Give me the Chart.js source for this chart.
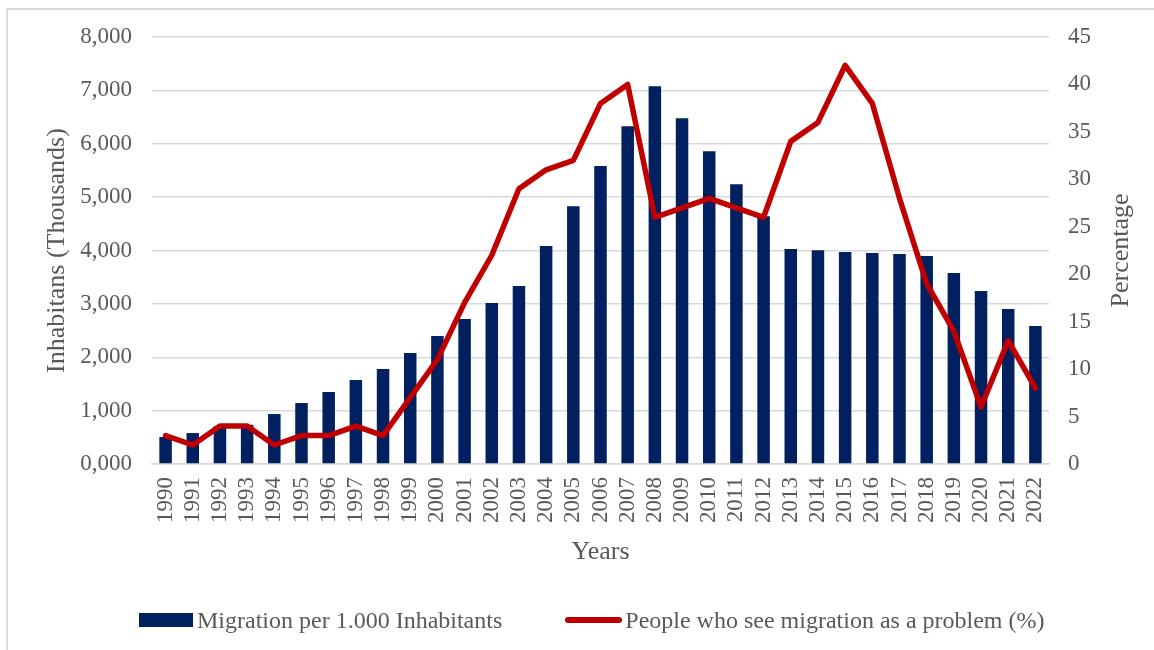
<!DOCTYPE html>
<html>
<head>
<meta charset="utf-8">
<script src="https://cdn.jsdelivr.net/npm/chart.js@4"></script>
<style>
  body { margin: 0; background: #fff; overflow: hidden; }
  #wrap { position: relative; width: 1154px; height: 650px; }
  #frame { position: absolute; left: 6px; top: 8px; width: 1200px; height: 700px; border: 2px solid #d9d9d9; box-sizing: border-box; }
  #legend { position: absolute; left: 139px; top: 606px; height: 28px; display: flex; align-items: center;
    font-family: "Liberation Serif", "Times New Roman", serif; font-size: 24px; color: #595959; white-space: nowrap; }
  #legend .item { display: flex; align-items: center; }
  #legend .swatch { margin-right: 4px; }
</style>
</head>
<body>
<div id="wrap">
  <div id="frame"></div>
  <canvas id="mycanvas"></canvas>
  <div id="legend"></div>
</div>
<script>
var years = ['1990','1991','1992','1993','1994','1995','1996','1997','1998','1999','2000','2001','2002','2003','2004','2005','2006','2007','2008','2009','2010','2011','2012','2013','2014','2015','2016','2017','2018','2019','2020','2021','2022'];
var migration = [506, 580, 710, 735, 936, 1142, 1348, 1573, 1779, 2079, 2397, 2715, 3015, 3333, 4082, 4831, 5581, 6330, 7079, 6479, 5861, 5243, 4644, 4026, 4007, 3970, 3951, 3933, 3895, 3577, 3240, 2903, 2584];
var problem = [3, 2, 4, 4, 2, 3, 3, 4, 3, 7, 11, 17, 22, 29, 31, 32, 38, 40, 26, 27, 28, 27, 26, 34, 36, 42, 38, 28, 19, 14, 6, 13, 8];
var leftTicks = ['0,000','1,000','2,000','3,000','4,000','5,000','6,000','7,000','8,000'];
var rightTicks = ['0','5','10','15','20','25','30','35','40','45'];
var rightTitle = 'Percentage';

var navy = '#002060';
var red = '#C00000';
var grey = '#595959';
var serif = "'Liberation Serif', 'Times New Roman', serif";

var chartdata = {
  labels: years,
  datasets: [
    {
      type: 'bar',
      label: 'Migration per 1.000 Inhabitants',
      data: migration,
      backgroundColor: navy,
      borderWidth: 0,
      yAxisID: 'y',
      order: 2,
      categoryPercentage: 0.46,
      barPercentage: 1
    },
    {
      type: 'line',
      label: 'People who see migration as a problem (%)',
      data: problem,
      borderColor: red,
      backgroundColor: red,
      borderWidth: 5.5,
      borderJoinStyle: 'round',
      borderCapStyle: 'round',
      pointRadius: 0,
      tension: 0,
      yAxisID: 'y1',
      order: 1
    }
  ]
};

// right axis title reads bottom-to-top like the left one
var rightTitlePlugin = {
  id: 'rightTitle',
  afterDraw: function(chart) {
    var c = chart.ctx;
    var area = chart.chartArea;
    c.save();
    c.translate(chart.scales.y1.right - 33, (area.top + area.bottom) / 2);
    c.rotate(-Math.PI / 2);
    c.font = '26px ' + serif;
    c.fillStyle = grey;
    c.textAlign = 'center';
    c.textBaseline = 'middle';
    c.fillText(rightTitle, 0, 0);
    c.restore();
  }
};

var ctx = document.getElementById('mycanvas');
ctx.style.width = '1154px';
ctx.style.height = '650px';

var chart = new Chart(ctx, {
  data: chartdata,
  plugins: [rightTitlePlugin],
  options: {
    responsive: false,
    animation: false,
    layout: { padding: { top: 37, bottom: 82, left: 0, right: 0 } },
    plugins: { legend: { display: false }, tooltip: { enabled: false } },
    scales: {
      x: {
        grid: { display: false, drawTicks: false },
        border: { display: true, color: '#d9d9d9', width: 1.5 },
        ticks: { color: grey, font: { family: serif, size: 23 }, minRotation: 90, maxRotation: 90, autoSkip: false, padding: 13 },
        title: { display: true, text: 'Years', color: grey, font: { family: serif, size: 26 }, padding: { top: 0, bottom: 0 } },
        afterFit: function(scale) { scale.height = 104; }
      },
      y: {
        position: 'left',
        min: 0, max: 8000,
        grid: { color: '#d9d9d9', lineWidth: 1.5, drawTicks: false },
        border: { display: false },
        ticks: { stepSize: 1000, color: grey, font: { family: serif, size: 23 }, padding: 20,
          callback: function(v, i) { return leftTicks[i]; } },
        title: { display: true, text: 'Inhabitans (Thousands)', color: grey, font: { family: serif, size: 26 }, padding: { top: 42, bottom: 0 } },
        afterFit: function(scale) { scale.width = 152; }
      },
      y1: {
        position: 'right',
        min: 0, max: 45,
        grid: { display: false, drawTicks: false },
        border: { display: false },
        ticks: { stepSize: 5, color: grey, font: { family: serif, size: 23 }, padding: 19,
          callback: function(v, i) { return rightTicks[i]; } },
        title: { display: false },
        afterFit: function(scale) { scale.width = 105; }
      }
    }
  }
});

// legend built from the datasets
var legend = document.getElementById('legend');
chart.data.datasets.forEach(function(ds, i) {
  var item = document.createElement('div');
  item.className = 'item';
  if (i > 0) item.style.marginLeft = '63px';
  var sw = document.createElement('span');
  sw.className = 'swatch';
  if (ds.type === 'bar') {
    sw.style.cssText = 'display:inline-block;width:54px;height:14px;background:' + ds.backgroundColor + ';';
  } else {
    sw.style.cssText = 'display:inline-block;width:57px;height:6px;border-radius:3px;background:' + ds.borderColor + ';margin-right:3px;';
  }
  var txt = document.createElement('span');
  txt.textContent = ds.label;
  item.appendChild(sw);
  item.appendChild(txt);
  legend.appendChild(item);
});
</script>
</body>
</html>
